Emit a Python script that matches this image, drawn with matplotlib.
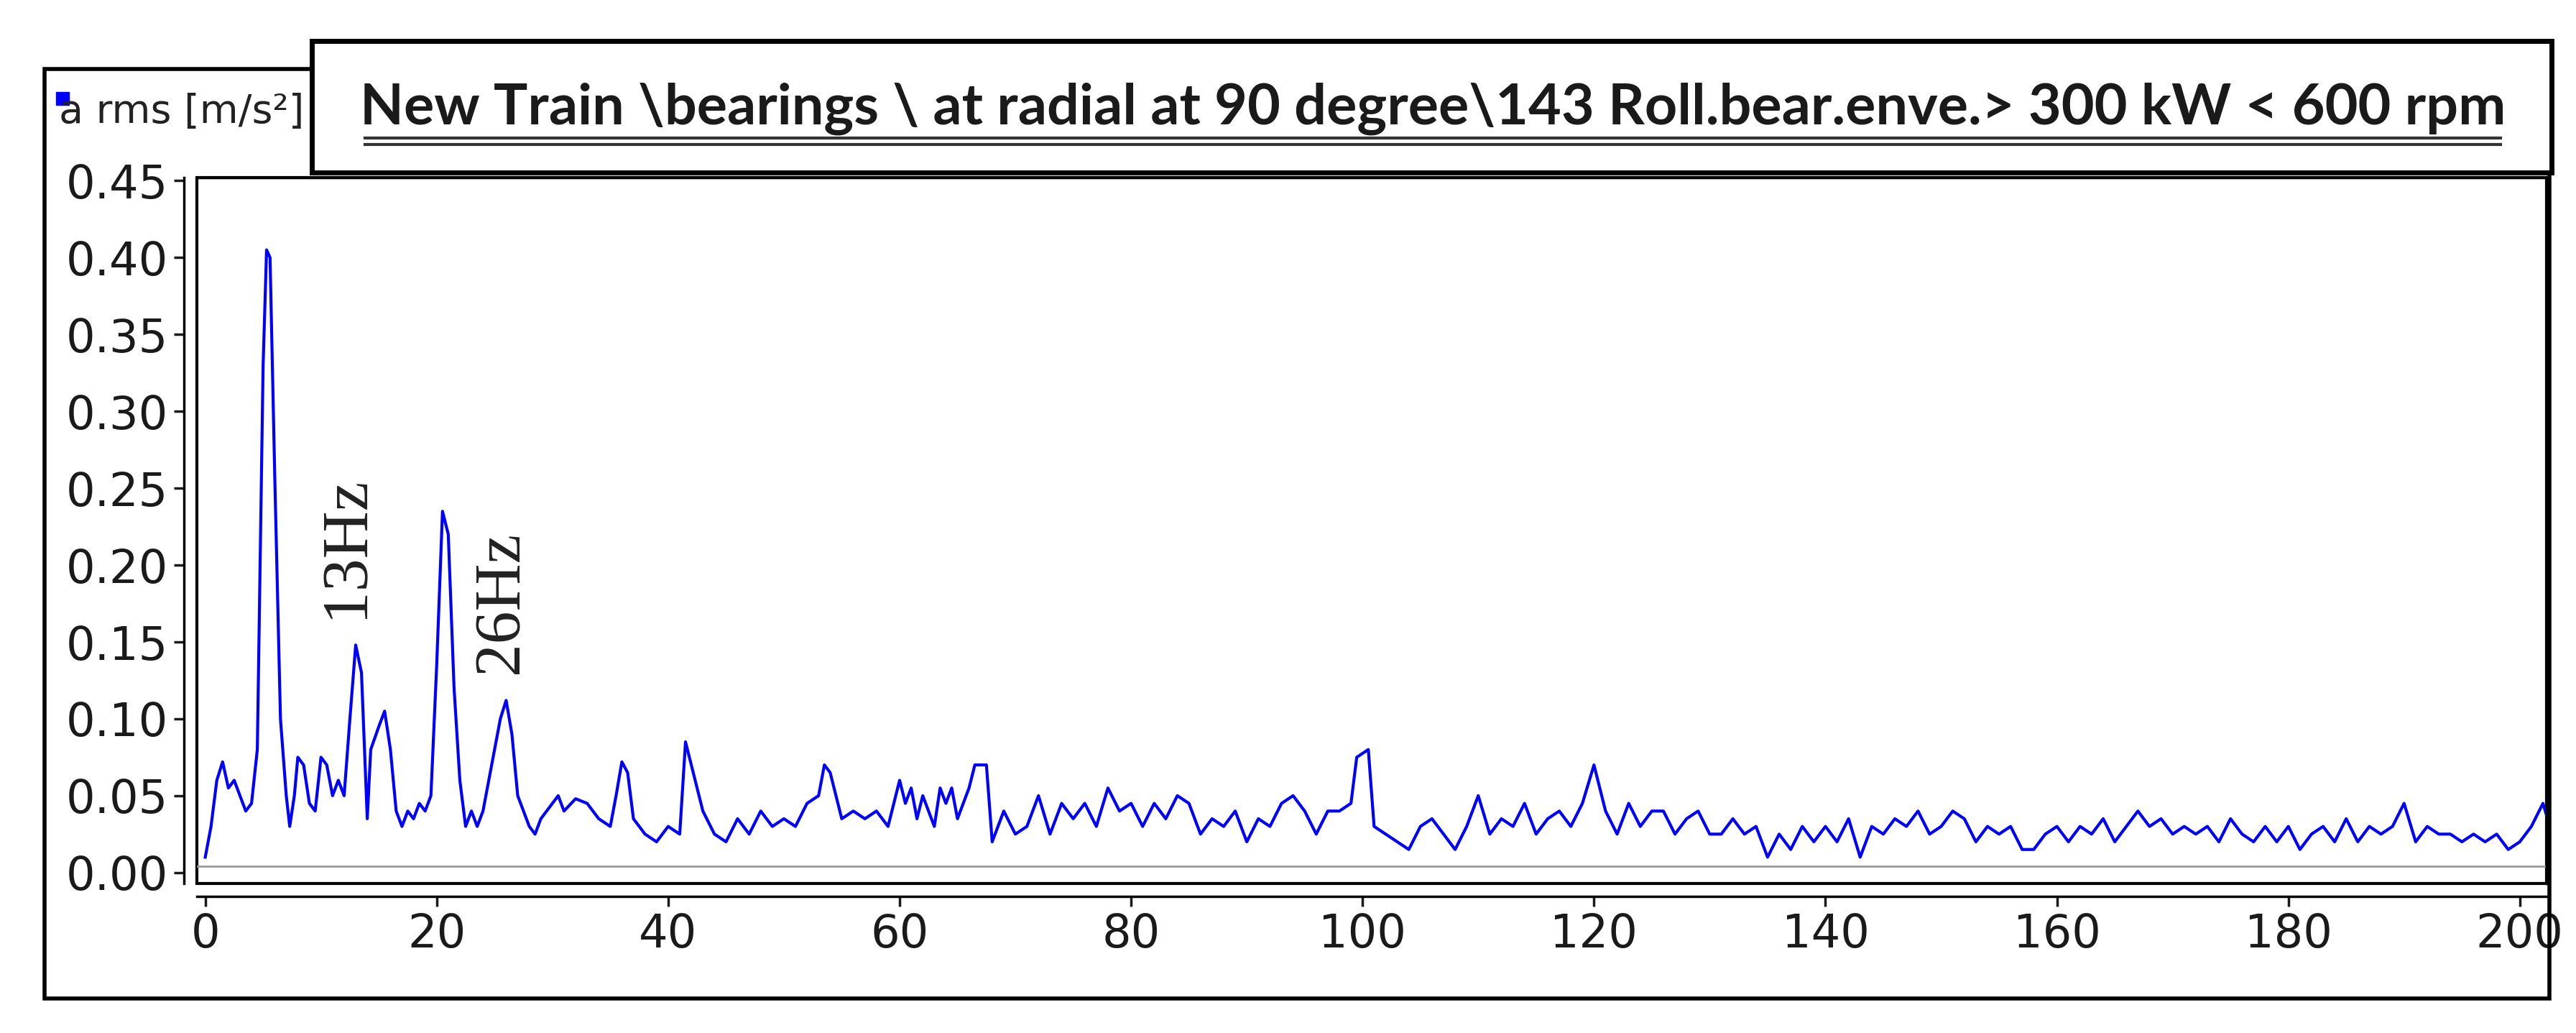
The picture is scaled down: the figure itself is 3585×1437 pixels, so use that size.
import matplotlib
matplotlib.use("Agg")
import matplotlib.pyplot as plt
from matplotlib.patches import Rectangle

freq = [0,.5,1,1.5,2,2.5,3,3.5,4,4.5,5,5.3,5.6,6,6.5,7,7.3,7.7,8,8.5,9,9.5,10,10.5,11,11.5,12,12.5,13,13.5,14,14.3,15,15.5,16,16.5,17,17.5,18,18.5,19,19.5,20,20.5,21,21.5,22,22.5,23,23.5,24,24.5,25,25.5,26,26.5,27,27.5,28,28.5,29,29.5,30,30.5,31,32,33,34,35,35.5,36,36.5,37,38,39,40,41,41.5,42,43,44,45,46,47,48,49,50,51,52,53,53.5,54,55,56,57,58,59,60,60.5,61,61.5,62,63,63.5,64,64.5,65,66,66.5,67.5,68,69,70,71,72,73,74,75,76,77,78,79,80,81,82,83,84,85,86,87,88,89,90,91,92,93,94,95,96,97,98,99,99.5,100.5,101,102,103,104,105,106,107,108,109,110,111,112,113,114,115,116,117,118,119,120,121,122,123,124,125,126,127,128,129,130,131,132,133,134,135,136,137,138,139,140,141,142,143,144,145,146,147,148,149,150,151,152,153,154,155,156,157,158,159,160,161,162,163,164,165,166,167,168,169,170,171,172,173,174,175,176,177,178,179,180,181,182,183,184,185,186,187,188,189,190,191,192,193,194,195,196,197,198,199,200,201,202,203]
arms = [.01,.03,.06,.072,.055,.06,.05,.04,.045,.08,.33,.405,.40,.26,.10,.05,.03,.05,.075,.07,.045,.04,.075,.07,.05,.06,.05,.10,.148,.13,.035,.08,.095,.105,.08,.04,.03,.04,.035,.045,.04,.05,.135,.235,.22,.12,.06,.03,.04,.03,.04,.06,.08,.10,.112,.09,.05,.04,.03,.025,.035,.04,.045,.05,.04,.048,.045,.035,.03,.05,.072,.065,.035,.025,.02,.03,.025,.085,.07,.04,.025,.02,.035,.025,.04,.03,.035,.03,.045,.05,.07,.065,.035,.04,.035,.04,.03,.06,.045,.055,.035,.05,.03,.055,.045,.055,.035,.055,.07,.07,.02,.04,.025,.03,.05,.025,.045,.035,.045,.03,.055,.04,.045,.03,.045,.035,.05,.045,.025,.035,.03,.04,.02,.035,.03,.045,.05,.04,.025,.04,.04,.045,.075,.08,.03,.025,.02,.015,.03,.035,.025,.015,.03,.05,.025,.035,.03,.045,.025,.035,.04,.03,.045,.07,.04,.025,.045,.03,.04,.04,.025,.035,.04,.025,.025,.035,.025,.03,.01,.025,.015,.03,.02,.03,.02,.035,.01,.03,.025,.035,.03,.04,.025,.03,.04,.035,.02,.03,.025,.03,.015,.015,.025,.03,.02,.03,.025,.035,.02,.03,.04,.03,.035,.025,.03,.025,.03,.02,.035,.025,.02,.03,.02,.03,.015,.025,.03,.02,.035,.02,.03,.025,.03,.045,.02,.03,.025,.025,.02,.025,.02,.025,.015,.02,.03,.045,.02]
xticks = [0,20,40,60,80,100,120,140,160,180,200]
yticks = [0.00,0.05,0.10,0.15,0.20,0.25,0.30,0.35,0.40,0.45]
title = r"New Train \bearings \ at radial at 90 degree\143 Roll.bear.enve.> 300 kW < 600 rpm"
annots = [("13Hz", 12.2, 0.212), ("26Hz", 25.6, 0.176)]

W, H = 1568, 628
fig = plt.figure(figsize=(35.85, 14.37), dpi=100)
fig.add_artist(Rectangle((27/W, 1-607/H), (1552-27)/W, (607-42)/H, transform=fig.transFigure,
                         fill=False, lw=4, ec='black'))
ax = fig.add_axes([120/W, 1-537/H, (1550-120)/W, (537-108)/H])
ax.plot(freq, arms, color='#0000ff', lw=3)
ax.axhline(0.004, color='#999999', lw=2)
ax.set_xlim(-0.7, 202.3)
ax.set_ylim(-0.007, 0.452)
for s in ['top', 'right']:
    ax.spines[s].set_linewidth(2.5)
ax.spines['left'].set_position(('outward', 13))
ax.spines['bottom'].set_position(('outward', 13))
ax.spines['left'].set_linewidth(2.5)
ax.spines['bottom'].set_linewidth(2.5)
ax.add_patch(Rectangle((0, 0), 1, 1, transform=ax.transAxes, fill=False, lw=3, ec='black', clip_on=False))
ax.set_xticks(xticks)
ax.set_yticks(yticks)
ax.set_yticklabels([f"{v:.2f}" for v in yticks])
ax.tick_params(labelsize=46, colors='#1a1a1a', length=10, width=2.5, pad=6)
for t, x, y in annots:
    ax.text(x, y, t, rotation=90, ha='center', va='center', fontsize=66,
            family='Liberation Serif', color='#222222')
fig.text(36/W, 1-80/H, "a rms [m/s²]", fontsize=40, color='#222222', va='bottom')
fig.add_artist(Rectangle((34/W, 1-64/H), 8/W, 8/H, transform=fig.transFigure, color='#0000ff'))
fig.add_artist(Rectangle((190/W, 1-105/H), (1553-190)/W, (105-25)/H, transform=fig.transFigure,
                         fc='white', lw=5, ec='black', zorder=5))
fig.text((222+1522)/2/W, 1-66/H, title, fontsize=57, weight='bold', family='Lato',
         ha='center', va='center', color='#1a1a1a', zorder=6)
fig.add_artist(plt.Line2D([222/W, 1522/W], [1-84/H, 1-84/H], color='#333333', lw=3, zorder=6))
fig.add_artist(plt.Line2D([222/W, 1522/W], [1-88/H, 1-88/H], color='#333333', lw=3, zorder=6))
fig.savefig("out.png", dpi=100)
